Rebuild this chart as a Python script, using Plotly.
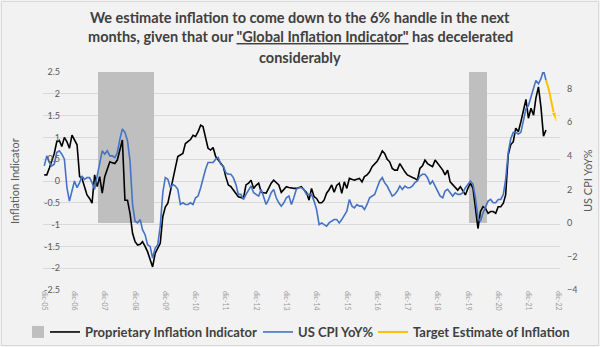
import plotly.graph_objects as go
import pandas as pd

# ---------------- data ----------------
start_month = "2005-12-01"

# Proprietary Inflation Indicator (left axis), monthly Dec-05 .. Jul-22
indicator = [
    0.14,
    0.14, 0.30, 0.45, 0.63, 0.90, 0.93, 0.79, 1.00, 0.90, 0.75, 1.05, 0.93,      # 2006
    0.83, 0.10, 0.06, -0.13, -0.32, -0.40, -0.51, 0.14, -0.13, 0.10, -0.28, 0.10,  # 2007
    0.25, 0.44, 0.42, 0.40, 0.48, 0.71, 0.94, -0.44, -0.44, -0.74, -1.20, -1.39,   # 2008
    -1.47, -1.45, -1.39, -1.50, -1.62, -1.80, -1.97, -1.66, -1.55, -1.43, -0.82, -0.60,  # 2009
    -0.51, -0.21, 0.02, 0.30, 0.56, 0.59, 0.63, 0.86, 0.90, 0.95, 1.05, 1.02,      # 2010
    1.13, 1.28, 1.25, 0.98, 0.75, 0.71, 0.77, 0.56, 0.48, 0.40, 0.33, 0.10,        # 2011
    -0.09, -0.13, -0.20, -0.28, -0.36, -0.38, -0.40, -0.09, -0.05, 0.02, -0.17, -0.10,  # 2012
    -0.05, -0.26, -0.27, -0.28, -0.17, -0.05, 0.02, -0.04, -0.09, -0.26, -0.20, -0.13,  # 2013
    -0.15, -0.17, -0.17, -0.17, -0.15, -0.13, -0.20, -0.26, -0.44, -0.17, -0.36, -0.40,  # 2014
    -0.50, -0.50, -0.44, -0.28, -0.20, -0.09, -0.26, -0.10, -0.05, -0.28, -0.02, -0.17,  # 2015
    0.06, 0.04, 0.02, 0.04, 0.06, -0.02, 0.10, 0.14, 0.21, 0.33, 0.40, 0.45,       # 2016
    0.56, 0.69, 0.63, 0.50, 0.44, 0.29, 0.25, 0.25, 0.40, 0.30, 0.21, 0.14,        # 2017
    0.10, 0.08, 0.06, 0.02, 0.29, 0.35, 0.48, 0.40, 0.36, 0.33, 0.48, 0.40,        # 2018
    0.32, 0.25, 0.14, 0.25, -0.02, -0.09, -0.15, -0.21, -0.13, -0.21, -0.32, -0.17,  # 2019
    -0.05, -0.17, -0.67, -1.09, -0.70, -0.59, -0.63, -0.74, -0.70, -0.70, -0.74, -0.59,  # 2020
    -0.59, -0.51, -0.32, 0.60, 0.83, 0.90, 1.21, 1.13, 1.36, 1.59, 1.87, 1.44,     # 2021
    1.67, 1.51, 1.90, 2.16, 1.70, 1.03, 1.17,                                      # 2022
]

# US CPI YoY% (right axis), monthly Dec-05 .. Jul-22
cpi = [
    3.4,
    4.0, 3.6, 3.4, 3.5, 4.2, 4.3, 4.1, 3.8, 2.1, 1.3, 2.0, 2.5,
    2.1, 2.4, 2.8, 2.6, 2.7, 2.7, 2.4, 2.0, 2.8, 3.5, 4.3, 4.1,
    4.3, 4.0, 4.0, 3.9, 4.2, 5.0, 5.6, 5.4, 4.9, 3.7, 1.1, 0.1,
    0.0, 0.2, -0.4, -0.7, -1.3, -1.4, -2.1, -1.5, -1.3, -0.2, 1.8, 2.7,
    2.6, 2.1, 2.3, 2.2, 2.0, 1.1, 1.2, 1.1, 1.1, 1.2, 1.1, 1.5,
    1.6, 2.1, 2.7, 3.2, 3.6, 3.6, 3.6, 3.8, 3.9, 3.5, 3.4, 3.0,
    2.9, 2.9, 2.7, 2.3, 1.7, 1.7, 1.4, 1.7, 2.0, 2.2, 1.8, 1.7,
    1.6, 2.0, 1.5, 1.1, 1.4, 1.8, 2.0, 1.5, 1.2, 1.0, 1.2, 1.5,
    1.6, 1.1, 1.5, 2.0, 2.1, 2.1, 2.0, 1.7, 1.7, 1.7, 1.3, 0.8,
    -0.1, 0.0, -0.1, -0.2, 0.0, 0.1, 0.2, 0.2, 0.0, 0.2, 0.5, 0.7,
    1.4, 1.0, 0.9, 1.1, 1.0, 1.0, 0.8, 1.1, 1.5, 1.6, 1.7, 2.1,
    2.5, 2.7, 2.4, 2.2, 1.9, 1.6, 1.7, 1.9, 2.2, 2.0, 2.2, 2.1,
    2.1, 2.2, 2.4, 2.5, 2.8, 2.9, 2.9, 2.7, 2.3, 2.5, 2.2, 1.9,
    1.6, 1.5, 1.9, 2.0, 1.8, 1.6, 1.8, 1.7, 1.7, 1.8, 2.1, 2.3,
    2.5, 2.3, 1.5, 0.3, 0.1, 0.6, 1.0, 1.3, 1.4, 1.2, 1.2, 1.4,
    1.4, 1.7, 2.6, 4.2, 5.0, 5.4, 5.4, 5.3, 5.4, 6.2, 6.8, 7.0,
    7.5, 7.9, 8.5, 8.3, 8.6, 9.1, 8.5,
]

# Target estimate (right axis)
target_months = ["2022-07-01", "2022-08-01", "2022-09-01", "2022-10-01", "2022-11-01"]
target_values = [8.5, 8.0, 7.3, 6.6, 6.1]

# Shaded periods: bars spanning from CPI 0% up to the top of the chart
shade_months = (list(pd.date_range("2007-10-01", "2009-07-01", freq="MS").strftime("%Y-%m-%d"))
                + list(pd.date_range("2020-01-01", "2020-07-01", freq="MS").strftime("%Y-%m-%d")))

LEFT_RANGE = [-2.5, 2.5]
RIGHT_RANGE = [-4, 9]
left_ticks = [-2.5, -2, -1.5, -1, -0.5, 0, 0.5, 1, 1.5, 2, 2.5]
right_ticks = [-4, -2, 0, 2, 4, 6, 8]

tick_dates = [f"{y}-12-01" for y in range(2005, 2023)]
tick_labels = [f"dic-{str(y)[2:]}" for y in range(2005, 2023)]

title_lines = [
    'We estimate inflation to come down to the 6% handle in the next',
    'months, given that our <u>"Global Inflation Indicator"</u> has decelerated',
    'considerably',
]

months = list(pd.date_range(start_month, periods=len(indicator), freq="MS").strftime("%Y-%m-%d"))

# right-axis 0% expressed on the left axis (the shaded bars start there)
shade_base = LEFT_RANGE[0] + (0 - RIGHT_RANGE[0]) / (RIGHT_RANGE[1] - RIGHT_RANGE[0]) * (LEFT_RANGE[1] - LEFT_RANGE[0])
shade_top = LEFT_RANGE[1]

# ---------------- figure ----------------
FONT = "Lato, sans-serif"
DARK = "#404040"
GREY = "#595959"
L, R, T, B = 43, 40, 72, 57
PLOT_W = 600 - L - R
PLOT_H = 347 - T - B


def px_x(px):
    return (px - L) / PLOT_W


def px_y(py):
    return (347 - B - py) / PLOT_H


fig = go.Figure()

fig.add_trace(go.Bar(
    x=shade_months, y=[shade_top - shade_base] * len(shade_months), base=shade_base, yaxis="y",
    marker=dict(color="#bfbfbf", line=dict(width=0)), width=31 * 24 * 3600 * 1000,
    name="", legend="legend", hoverinfo="skip",
))
fig.add_trace(go.Scatter(
    x=months, y=indicator, yaxis="y", mode="lines",
    line=dict(color="#000000", width=1.6), name="Proprietary Inflation Indicator", legend="legend2",
))
fig.add_trace(go.Scatter(
    x=months[:len(cpi)], y=cpi, yaxis="y2", mode="lines",
    line=dict(color="#4472c4", width=1.6), name="US CPI YoY%", legend="legend3",
))
fig.add_trace(go.Scatter(
    x=target_months, y=target_values, yaxis="y2", mode="lines",
    line=dict(color="#ffc000", width=2, shape="spline"), name="Target Estimate of Inflation",
    legend="legend4",
))
fig.add_trace(go.Scatter(
    x=target_months[-2:], y=target_values[-2:], yaxis="y2", mode="markers",
    marker=dict(symbol="arrow", angleref="previous", size=[0, 9], color="#ffc000"),
    showlegend=False, hoverinfo="skip",
))

title_ann = []
for line, py in zip(title_lines, [17, 37, 57]):
    title_ann.append(dict(
        text=line, xref="paper", yref="paper", x=px_x(300), y=px_y(py),
        xanchor="center", yanchor="middle", showarrow=False,
        font=dict(family=FONT, size=14.5, color=DARK, weight="bold"),
    ))

LEG_FONT = dict(family=FONT, size=13, color=DARK, weight="bold")
leg_common = dict(orientation="h", xanchor="left", yanchor="middle", y=px_y(332),
                  font=LEG_FONT, bgcolor="rgba(0,0,0,0)", itemwidth=30, borderwidth=0)

fig.update_layout(
    width=600, height=347,
    margin=dict(l=L, r=R, t=T, b=B, autoexpand=False),
    paper_bgcolor="#f2f2f2", plot_bgcolor="#f2f2f2",
    font=dict(family=FONT, color=GREY),
    bargap=0,
    xaxis=dict(
        type="date", range=["2005-11-16", "2022-12-17"], automargin=False,
        tickmode="array", tickvals=tick_dates, ticktext=tick_labels,
        tickangle=90, tickfont=dict(size=7, color="#9a9a9a"),
        showgrid=False, showline=False, zeroline=False, ticks="",
    ),
    yaxis=dict(
        side="left", range=LEFT_RANGE, automargin=False,
        tickmode="array", tickvals=left_ticks, ticktext=[f"{v:g}" for v in left_ticks],
        showgrid=True, gridcolor="#d9d9d9", gridwidth=1, zeroline=False, showline=False,
        tickfont=dict(size=9, color=GREY), ticklabelstandoff=-18,
    ),
    yaxis2=dict(
        overlaying="y", side="right", anchor="x", range=RIGHT_RANGE, automargin=False,
        tickmode="array", tickvals=right_ticks,
        showgrid=False, zeroline=False, showline=False,
        tickfont=dict(size=9, color=GREY), ticklabelstandoff=6,
    ),
    legend=dict(x=px_x(18), **leg_common),
    legend2=dict(x=px_x(45), **leg_common),
    legend3=dict(x=px_x(258), **leg_common),
    legend4=dict(x=px_x(373), **leg_common),
    showlegend=True,
    annotations=title_ann + [
        dict(text="Inflation Indicator", xref="paper", yref="paper", x=px_x(14), y=0.5,
             xanchor="center", yanchor="middle",
             textangle=-90, showarrow=False, font=dict(size=11, color=GREY)),
        dict(text="US CPI YoY%", xref="paper", yref="paper", x=px_x(587), y=0.5,
             xanchor="center", yanchor="middle",
             textangle=-90, showarrow=False, font=dict(size=11, color=GREY)),
    ],
    shapes=[
        dict(type="rect", xref="paper", yref="paper", x0=px_x(1.5), x1=px_x(598.5),
             y0=px_y(345.5), y1=px_y(1.5),
             line=dict(color="#d9d9d9", width=1), fillcolor="rgba(0,0,0,0)", layer="below"),
    ],
)

fig.write_html("out.html")
